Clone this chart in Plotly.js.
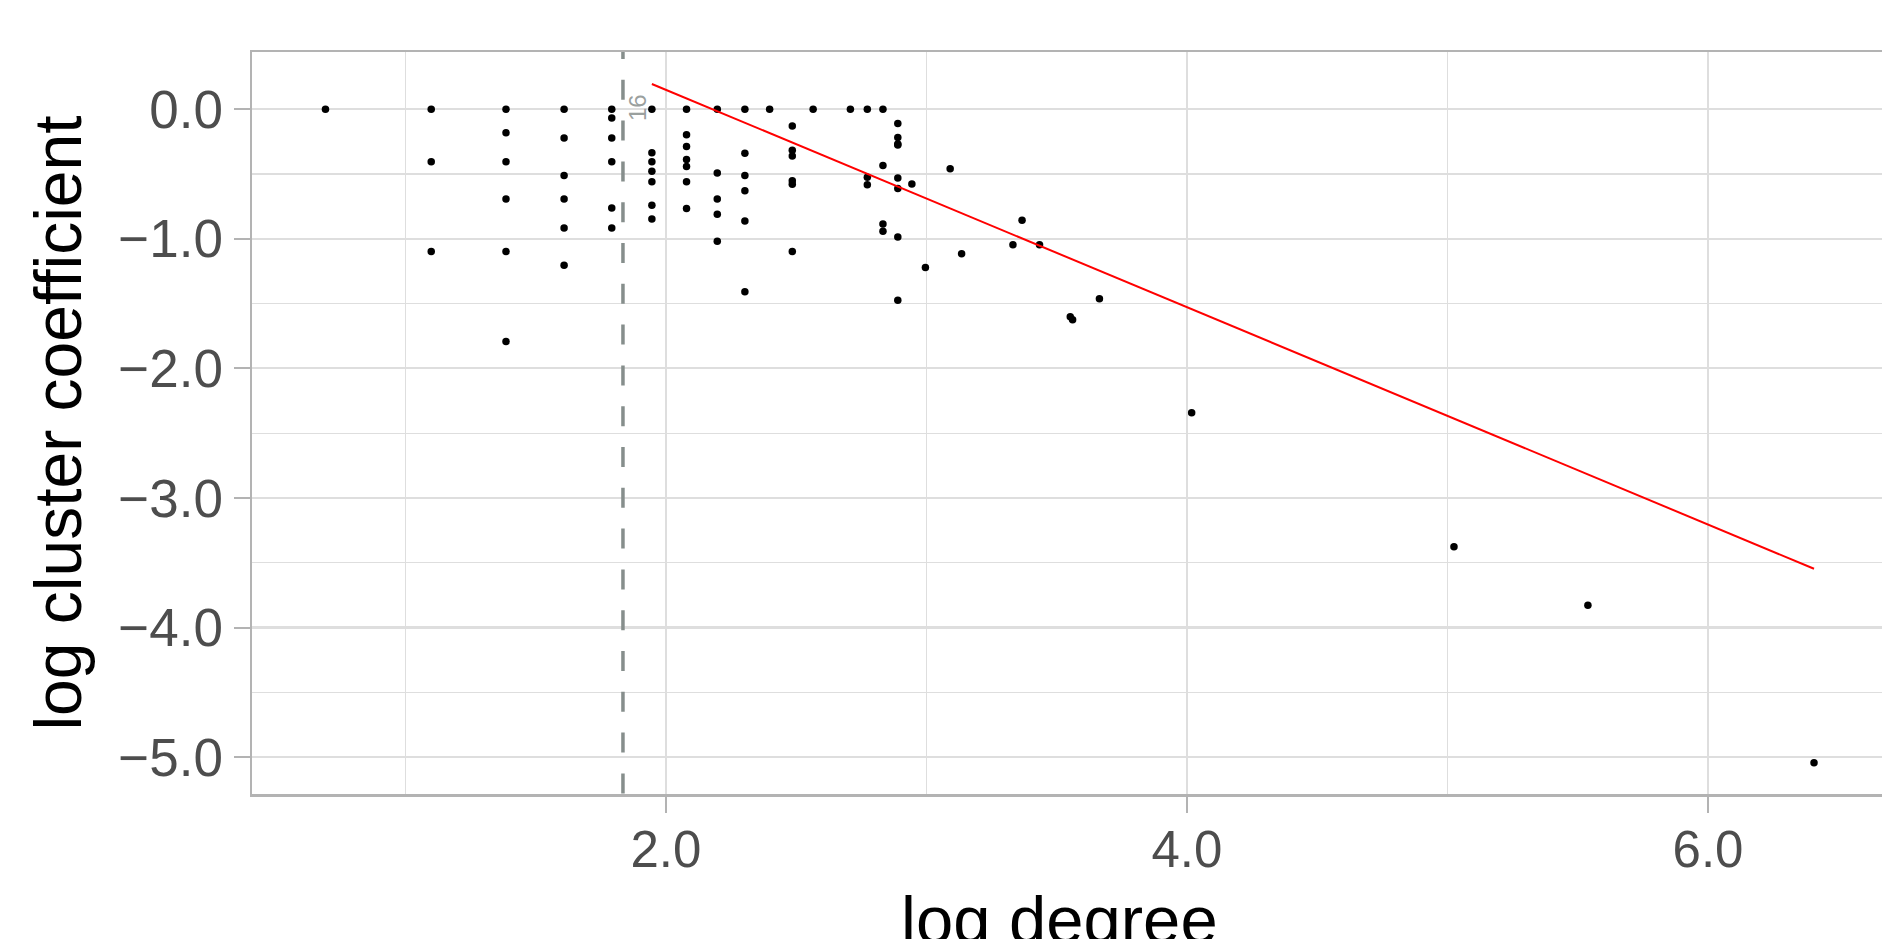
<!DOCTYPE html>
<html>
<head>
<meta charset="utf-8">
<script src="https://cdn.plot.ly/plotly-3.0.1.min.js"></script>
<style>
  html, body { margin: 0; padding: 0; background: #ffffff; }
  #chart { width: 1882px; height: 939px; }
</style>
</head>
<body>
<div id="chart"></div>
<script>
// ---- data ----
const log_degree = [
  0.693,
  1.099, 1.099, 1.099,
  1.386, 1.386, 1.386, 1.386, 1.386, 1.386,
  1.609, 1.609, 1.609, 1.609, 1.609, 1.609,
  1.792, 1.792, 1.792, 1.792, 1.792, 1.792,
  1.946, 1.946, 1.946, 1.946, 1.946, 1.946, 1.946,
  2.079, 2.079, 2.079, 2.079, 2.079, 2.079, 2.079,
  2.197, 2.197, 2.197, 2.197, 2.197,
  2.303, 2.303, 2.303, 2.303, 2.303, 2.303,
  2.398,
  2.485, 2.485, 2.485, 2.485, 2.485, 2.485,
  2.565,
  2.708,
  2.773, 2.773, 2.773,
  2.833, 2.833, 2.833, 2.833,
  2.890, 2.890, 2.890, 2.890, 2.890, 2.890, 2.890, 2.890,
  2.944,
  2.996,
  3.091,
  3.135,
  3.332,
  3.367,
  3.434,
  3.552, 3.561,
  3.664,
  4.018,
  5.025,
  5.539,
  6.407
];
const log_cluster = [
  0.000,
  0.000, -0.405, -1.099,
  0.000, -0.182, -0.405, -0.693, -1.099, -1.792,
  0.000, -0.223, -0.511, -0.693, -0.916, -1.204,
  0.000, -0.069, -0.223, -0.405, -0.762, -0.916,
  0.000, -0.336, -0.405, -0.480, -0.560, -0.742, -0.847,
  0.000, -0.197, -0.288, -0.388, -0.442, -0.560, -0.767,
  0.000, -0.492, -0.693, -0.811, -1.019,
  0.000, -0.341, -0.511, -0.629, -0.862, -1.409,
  0.000,
  -0.129, -0.318, -0.361, -0.552, -0.579, -1.099,
  0.000,
  0.000,
  0.000, -0.525, -0.583,
  0.000, -0.435, -0.887, -0.942,
  -0.110, -0.218, -0.268, -0.277, -0.531, -0.612, -0.987, -1.475,
  -0.577,
  -1.222,
  -0.459,
  -1.115,
  -1.047,
  -0.857,
  -1.047,
  -1.601, -1.625,
  -1.463,
  -2.343,
  -3.376,
  -3.828,
  -5.042
];

// fitted power-law line (red)
const fit_x = [1.946, 6.407];
const fit_y = [0.194, -3.546];

// cut-off marker (dashed vertical line + label)
const cutoff_x = [1.835];
const cutoff_label = ["16"];

// axis ticks and titles
const x_tickvals = [2, 4, 6];
const x_ticktext = ["2.0", "4.0", "6.0"];
const x_minorvals = [1, 3, 5];
const y_tickvals = [0, -1, -2, -3, -4, -5];
const y_ticktext = ["0.0", "\u22121.0", "\u22122.0", "\u22123.0", "\u22124.0", "\u22125.0"];
const y_minorvals = [-0.5, -1.5, -2.5, -3.5, -4.5];
const x_title = "log degree";
const y_title = "log cluster coefficient";

// ---- layout ----
const X_RANGE = [0.411, 6.668];
const Y_RANGE = [-5.284, 0.441];
const FONT = "Liberation Sans, Arial, sans-serif";
const GRID = "#dedede";
const BORDER = "#b3b3b3";

const traces = [
  {
    type: "scatter", mode: "markers",
    x: log_degree, y: log_cluster,
    marker: { color: "#000000", size: 7.5, line: { width: 0 } },
    hoverinfo: "x+y", showlegend: false
  },
  {
    type: "scatter", mode: "lines",
    x: fit_x, y: fit_y,
    line: { color: "#ff0000", width: 2 },
    hoverinfo: "skip", showlegend: false
  }
];

const yspan = Y_RANGE[1] - Y_RANGE[0];
const shapes = cutoff_x.map(v => ({
  type: "line", xref: "x", yref: "y", layer: "above",
  x0: v, x1: v,
  y0: Y_RANGE[1] + yspan * 13 / 742, y1: Y_RANGE[0] - yspan * 0.05,
  line: { color: "#868e8c", width: 3.5, dash: "20px,20.8px" }
}));

const annotations = cutoff_x.map((v, i) => ({
  x: v, y: 0, xref: "x", yref: "y",
  text: cutoff_label[i], showarrow: false, textangle: -90,
  xshift: 14, yshift: 2,
  font: { family: FONT, size: 24, color: "#9aa09e" }
}));
// x-axis title: in the reference it runs past the bottom edge of the picture
annotations.push({
  text: x_title, xref: "paper", yref: "paper", x: 0.4957, y: 0,
  xanchor: "center", yanchor: "top", yshift: -86, showarrow: false,
  font: { family: FONT, size: 67, color: "#000000" }
});

const layout = {
  width: 1882, height: 939,
  margin: { l: 252, r: 0, t: 52, b: 145, pad: 0 },
  paper_bgcolor: "#ffffff", plot_bgcolor: "#ffffff",
  font: { family: FONT },
  showlegend: false,
  xaxis: {
    range: X_RANGE, autorange: false,
    tickmode: "array", tickvals: x_tickvals, ticktext: x_ticktext,
    ticks: "outside", ticklen: 16, tickwidth: 2, tickcolor: BORDER,
    ticklabelstandoff: -7,
    tickfont: { family: FONT, size: 51, color: "#4d4d4d" },
    showgrid: true, gridcolor: GRID, gridwidth: 2.2,
    minor: { tickmode: "array", tickvals: x_minorvals, showgrid: true, gridcolor: GRID, gridwidth: 1.1, ticks: "" },
    zeroline: false,
    showline: true, linecolor: BORDER, linewidth: 2.5, mirror: true,
    automargin: false
  },
  yaxis: {
    range: Y_RANGE, autorange: false,
    tickmode: "array", tickvals: y_tickvals, ticktext: y_ticktext,
    ticks: "outside", ticklen: 16, tickwidth: 2, tickcolor: BORDER,
    ticklabelstandoff: 0,
    tickfont: { family: FONT, size: 53, color: "#4d4d4d" },
    showgrid: true, gridcolor: GRID, gridwidth: 2.2,
    minor: { tickmode: "array", tickvals: y_minorvals, showgrid: true, gridcolor: GRID, gridwidth: 1.1, ticks: "" },
    zeroline: false,
    showline: true, linecolor: BORDER, linewidth: 2.5, mirror: false,
    title: { text: y_title, font: { family: FONT, size: 66, color: "#000000" }, standoff: 15 },
    automargin: false
  },
  shapes: shapes,
  annotations: annotations
};

Plotly.newPlot("chart", traces, layout, { displayModeBar: false, staticPlot: true });
</script>
</body>
</html>
